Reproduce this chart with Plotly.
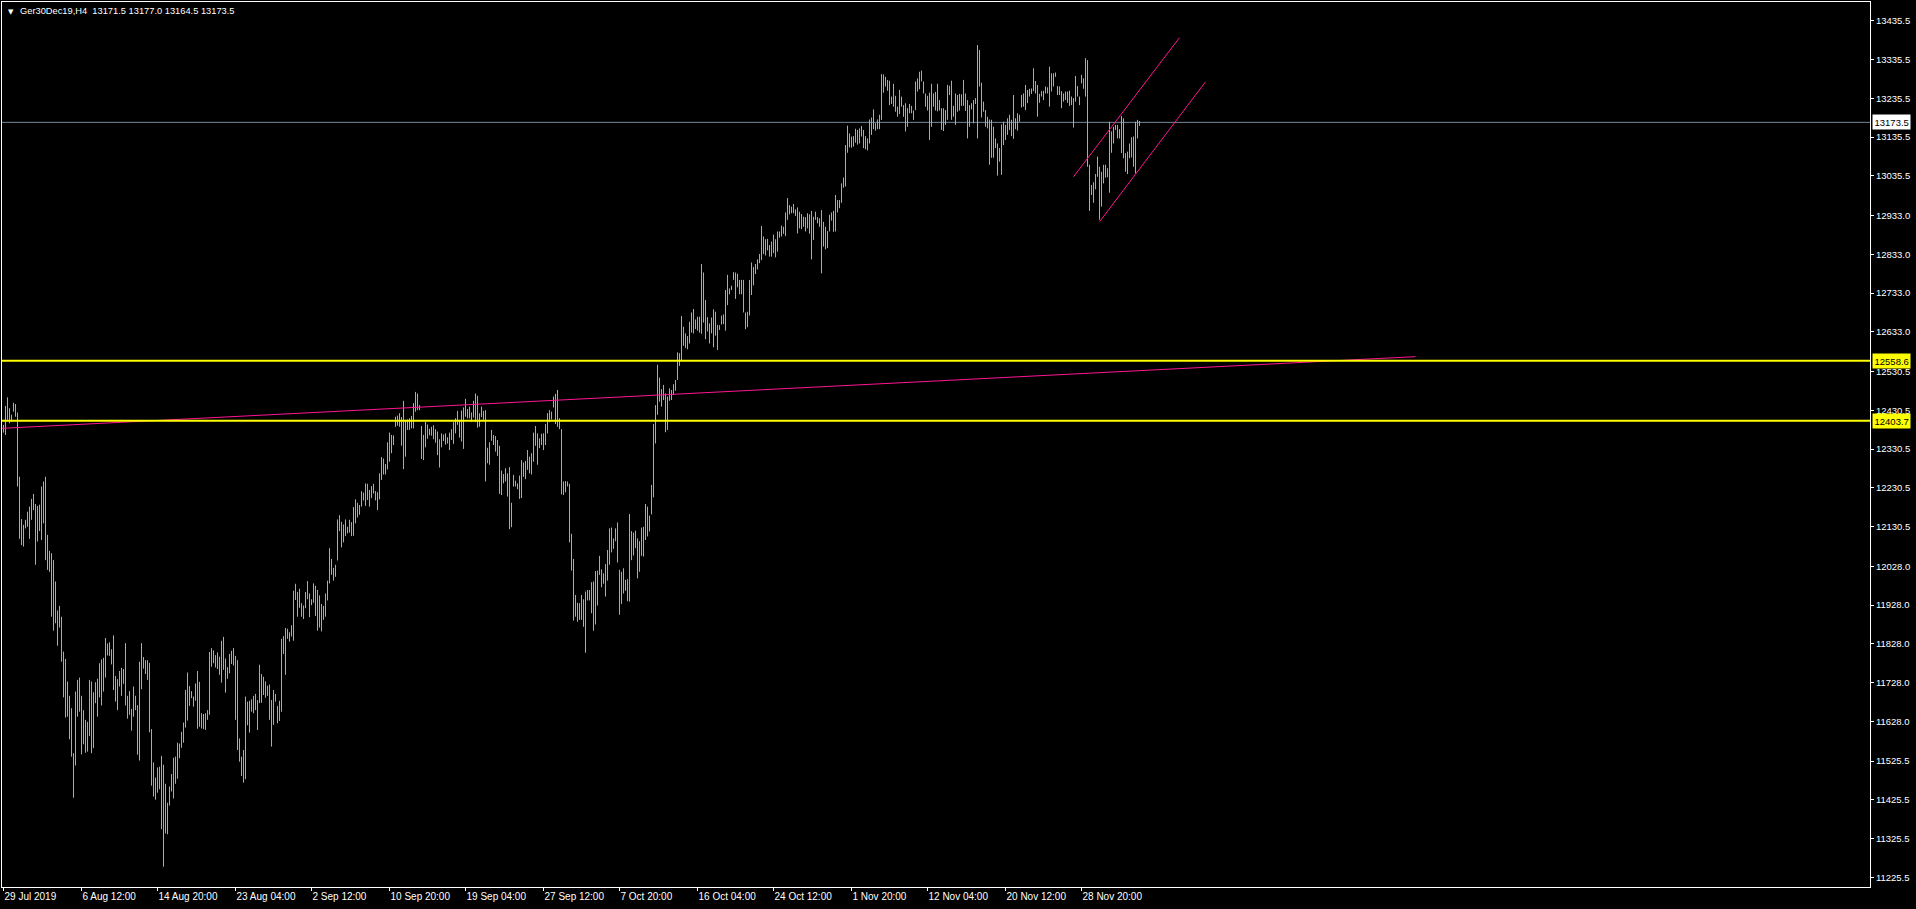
import plotly.graph_objects as go

# ---------------- data ----------------
chart_title = "Ger30Dec19,H4&nbsp; 13171.5 13177.0 13164.5 13173.5"

# H4 bar highs, oldest first
high = [
    12393, 12442, 12464, 12436, 12419, 12450, 12447, 12425, 12259, 12150,
    12135, 12148, 12169, 12182, 12202, 12215, 12189, 12184, 12187, 12234,
    12247, 12259, 12109, 12068, 12062, 12044, 11989, 11914, 11926, 11898,
    11808, 11789, 11731, 11694, 11662, 11546, 11705, 11735, 11741, 11694,
    11657, 11632, 11627, 11735, 11731, 11703, 11729, 11738, 11778, 11788,
    11792, 11843, 11829, 11832, 11814, 11850, 11745, 11737, 11758, 11766,
    11763, 11830, 11694, 11706, 11660, 11718, 11694, 11670, 11782, 11830,
    11794, 11786, 11786, 11779, 11608, 11522, 11483, 11509, 11511, 11539,
    11516, 11467, 11418, 11460, 11492, 11534, 11537, 11573, 11571, 11601,
    11625, 11709, 11754, 11719, 11706, 11692, 11726, 11758, 11730, 11649,
    11647, 11649, 11657, 11807, 11817, 11811, 11799, 11806, 11795, 11836,
    11846, 11790, 11768, 11802, 11810, 11817, 11797, 11786, 11584, 11537,
    11554, 11692, 11679, 11681, 11685, 11694, 11699, 11683, 11774, 11750,
    11743, 11731, 11720, 11723, 11683, 11709, 11699, 11668, 11681, 11841,
    11848, 11869, 11867, 11858, 11876, 11965, 11983, 11962, 11970,
    11933, 11927, 11962, 11990, 11958, 11943, 11984, 11978, 11967, 11953,
    11931, 11926, 11958, 11991, 12075, 12047, 12024, 12032, 12149, 12160,
    12143, 12136, 12149, 12130, 12148, 12142, 12181, 12201, 12192, 12186,
    12222, 12218, 12242, 12241, 12225, 12235, 12241, 12222, 12219, 12268,
    12310, 12306, 12292, 12348, 12373, 12367, 12366, 12414, 12417, 12423,
    12413, 12455, 12406, 12407, 12410, 12416, 12449, 12478, 12474, 12444,
    12390, 12367, 12401, 12394, 12383, 12388, 12392, 12382, 12376, 12356,
    12371, 12368, 12371, 12361, 12373, 12382, 12400, 12410, 12429, 12406,
    12430, 12438, 12460, 12434, 12440, 12425, 12455, 12474, 12468, 12423,
    12440, 12429, 12431, 12334, 12348, 12380, 12367, 12364, 12354, 12339,
    12275, 12266, 12281, 12268, 12284, 12192, 12264, 12249, 12242, 12262,
    12302, 12296, 12300, 12328, 12311, 12320, 12373, 12390, 12371, 12358,
    12370, 12371, 12395, 12423, 12431, 12427, 12466, 12473, 12483, 12410,
    12382, 12247, 12248, 12247, 12241, 12112, 12047, 11954, 11934, 11933,
    11954, 11943, 11963, 11967, 11967,
    11987, 11989, 12016, 12017, 12055, 12020, 12010, 12034, 12070, 12126,
    12128, 12100, 12126, 12141, 12019, 12014, 12023, 11993, 11995, 12163,
    12119, 12115, 12120, 12100, 12093, 12128, 12130, 12189, 12182, 12159,
    12238, 12395, 12444, 12548, 12515, 12485, 12496, 12474, 12466, 12487,
    12483, 12498, 12509, 12580, 12578, 12674, 12646, 12629, 12622, 12659,
    12683, 12692, 12665, 12672, 12672, 12808, 12786, 12715, 12671, 12655,
    12670, 12691, 12685, 12651, 12650, 12675, 12678, 12741, 12780, 12745,
    12752, 12787, 12786, 12783, 12767, 12767, 12767, 12683, 12685, 12767,
    12812, 12800, 12808, 12820, 12834, 12906, 12879, 12872, 12873, 12857,
    12866, 12884, 12872, 12892, 12892, 12907, 12904, 12941, 12978, 12960,
    12956, 12963, 12949, 12954, 12943, 12937, 12930, 12929, 12939, 12936,
    12945, 12930, 12943, 12929, 12926, 12947,
    12917, 12904, 12893, 12935, 12941, 12945, 12986, 12973, 12973, 13016,
    13031, 13115, 13165, 13145, 13137, 13138, 13157, 13154, 13158, 13164,
    13154, 13138, 13132, 13181, 13186, 13207, 13171, 13181, 13193, 13298,
    13297, 13291, 13283, 13281, 13240, 13273, 13242, 13214, 13257, 13240,
    13218, 13223, 13210, 13221, 13216, 13204, 13279, 13287, 13304, 13307,
    13279, 13248, 13242, 13250, 13273, 13248, 13252, 13273, 13231, 13210,
    13210, 13205, 13270, 13268, 13281, 13216, 13248, 13244, 13247, 13246,
    13283, 13248, 13231, 13218, 13223, 13231, 13236, 13373, 13360, 13276,
    13227, 13205, 13188, 13181, 13180, 13162, 13132, 13119, 13107, 13168,
    13175, 13167, 13184, 13193, 13180, 13244, 13184, 13197, 13193, 13244,
    13248, 13270, 13257, 13260, 13261, 13313, 13280, 13270, 13247, 13254,
    13255, 13266, 13264, 13317, 13300, 13300, 13302, 13267, 13266, 13254,
    13248, 13253, 13253, 13255, 13240, 13236, 13293, 13267, 13240, 13296,
    13287, 13339, 13334, 13064, 13012, 13019, 13040, 13085, 13059, 13046,
    13064, 13064, 13055, 13175, 13150, 13162, 13167, 13167, 13156, 13190,
    13184, 13094, 13098, 13119, 13135, 13137, 13175, 13180, 13177,
]

# H4 bar lows, oldest first
low = [
    12373, 12367, 12406, 12397, 12401, 12427, 12414, 12234, 12099, 12083,
    12079, 12126, 12130, 12099, 12148, 12173, 12032, 12092, 12119, 12096,
    12139, 12044, 12019, 12014, 11898, 11862, 11881, 11823, 11870, 11782,
    11690, 11638, 11640, 11582, 11537, 11431, 11514, 11640, 11653, 11543,
    11569, 11547, 11550, 11590, 11546, 11559, 11675, 11640, 11690, 11669,
    11705, 11741, 11798, 11797, 11775, 11709, 11679, 11657, 11718, 11694,
    11725, 11669, 11635, 11645, 11604, 11640, 11657, 11542, 11527, 11711,
    11764, 11750, 11735, 11600, 11462, 11434, 11426, 11444, 11453, 11350,
    11253, 11339, 11337, 11411, 11447, 11429, 11467, 11480, 11533, 11560,
    11573, 11612, 11630, 11668, 11688, 11666, 11681, 11609, 11614, 11610,
    11608, 11606, 11632, 11645, 11769, 11778, 11767, 11763, 11748, 11728,
    11761, 11702, 11738, 11752, 11776, 11772, 11632, 11554, 11524, 11487,
    11470, 11479, 11618, 11599, 11653, 11649, 11657, 11606, 11675, 11676,
    11696, 11689, 11694, 11632, 11563, 11619, 11679, 11623, 11629, 11653,
    11802, 11748, 11841, 11834, 11847, 11836, 11941, 11898, 11921,
    11898, 11892, 11920, 11943, 11897, 11928, 11934, 11900, 11862, 11870,
    11860, 11890, 11898, 11940, 11984, 12006, 11991, 12001, 12043, 12119,
    12077, 12090, 12106, 12113, 12115, 12106, 12107, 12139, 12154, 12161,
    12182, 12198, 12184, 12199, 12182, 12204, 12216, 12198, 12173, 12201,
    12251, 12265, 12265, 12278, 12298, 12320, 12341, 12388, 12391, 12388,
    12339, 12279, 12311, 12380, 12380, 12384, 12384, 12427, 12431, 12431,
    12305, 12302, 12335, 12357, 12366, 12365, 12356, 12347, 12315, 12283,
    12335, 12351, 12342, 12345, 12328, 12354, 12344, 12371, 12393, 12360,
    12350, 12331, 12414, 12410, 12410, 12401, 12412, 12400, 12386, 12388,
    12413, 12406, 12247, 12294, 12290, 12352, 12341, 12324, 12313, 12215,
    12212, 12242, 12247, 12208, 12124, 12129, 12234, 12234, 12227, 12202,
    12204, 12259, 12253, 12277, 12268, 12265, 12298, 12339, 12290, 12333,
    12341, 12328, 12341, 12371, 12400, 12407, 12438, 12395, 12388, 12382,
    12214, 12212, 12219, 12234, 12090, 12017, 11888, 11898, 11885, 11890,
    11890, 11872, 11805, 11940, 11940,
    11907, 11862, 11878, 11927, 12006, 11974, 11983, 11950, 11991, 12032,
    12064, 12073, 12093, 12038, 11903, 11931, 11958, 11965, 11938, 11937,
    12044, 12056, 12075, 11997, 12014, 12055, 12053, 12096, 12105, 12118,
    12162, 12206, 12345, 12419, 12453, 12440, 12457, 12374, 12380, 12455,
    12457, 12470, 12481, 12509, 12545, 12560, 12597, 12591, 12588, 12603,
    12631, 12629, 12640, 12636, 12631, 12628, 12657, 12614, 12634, 12603,
    12629, 12593, 12623, 12586, 12638, 12652, 12653, 12636, 12702, 12730,
    12741, 12767, 12718, 12748, 12730, 12730, 12683, 12640, 12645, 12675,
    12728, 12753, 12782, 12794, 12810, 12818, 12834, 12830, 12843, 12827,
    12827, 12836, 12825, 12840, 12876, 12879, 12886, 12880, 12922, 12936,
    12939, 12939, 12932, 12887, 12900, 12898, 12904, 12892, 12900, 12886,
    12820, 12870, 12922, 12913, 12904, 12784,
    12853, 12846, 12849, 12892, 12920, 12891, 12892, 12941, 12952, 12966,
    13005, 13008, 13095, 13109, 13108, 13111, 13121, 13116, 13119, 13137,
    13107, 13104, 13101, 13119, 13141, 13156, 13152, 13156, 13156, 13180,
    13250, 13266, 13255, 13218, 13221, 13214, 13201, 13188, 13195, 13214,
    13188, 13150, 13162, 13197, 13197, 13180, 13205, 13253, 13259, 13279,
    13248, 13214, 13204, 13128, 13162, 13214, 13204, 13202, 13204, 13154,
    13151, 13167, 13180, 13244, 13180, 13188, 13167, 13201, 13204, 13216,
    13216, 13203, 13132, 13162, 13207, 13171, 13221, 13132, 13266, 13186,
    13201, 13162, 13158, 13064, 13082, 13082, 13107, 13036, 13072, 13038,
    13115, 13128, 13141, 13154, 13138, 13131, 13156, 13152, 13175, 13212,
    13214, 13205, 13223, 13240, 13247, 13254, 13248, 13188, 13224, 13240,
    13231, 13248, 13248, 13214, 13253, 13266, 13291, 13244, 13244, 13210,
    13227, 13231, 13224, 13216, 13218, 13160, 13227, 13240, 13218, 13274,
    13260, 13240, 13059, 12945, 12986, 12966, 13001, 13033, 12922, 12956,
    13016, 13031, 13032, 12992, 13095, 13119, 13154, 13132, 13132, 13094,
    13081, 13046, 13040, 13081, 13083, 13059, 13042, 13132, 13164.5,
]

# time axis labels (bar index -> label)
x_tick_bars = [0, 39, 77, 116, 154, 193, 231, 270, 308, 347, 385, 424, 462, 501, 539]
x_tick_labels = ["29 Jul 2019", "6 Aug 12:00", "14 Aug 20:00", "23 Aug 04:00",
                 "2 Sep 12:00", "10 Sep 20:00", "19 Sep 04:00", "27 Sep 12:00",
                 "7 Oct 20:00", "16 Oct 04:00", "24 Oct 12:00", "1 Nov 20:00",
                 "12 Nov 04:00", "20 Nov 12:00", "28 Nov 20:00"]

# price axis labels
y_tick_values = [13435.5, 13335.5, 13235.5, 13135.5, 13035.5, 12933.0, 12833.0,
                 12733.0, 12633.0, 12530.5, 12430.5, 12330.5, 12230.5, 12130.5,
                 12028.0, 11928.0, 11828.0, 11728.0, 11628.0, 11525.5, 11425.5,
                 11325.5, 11225.5]

support_levels = [12558.6, 12403.7]
bid_price = 13173.5

trend_x = [-1, 706]
trend_y = [12384, 12569]
channel_upper_x = [535, 588]
channel_upper_y = [13033, 13392]
channel_lower_x = [548, 601]
channel_lower_y = [12917, 13278]

# ---------------- figure ----------------
W, H = 1916, 909
BAR_COLOR = "#ABABAB"
PINK = "#FF1493"
FONT = "Liberation Sans, Arial, sans-serif"

n = min(len(high), len(low))
seg_x, seg_y = [], []
for i in range(n):
    seg_x += [i, i, None]
    seg_y += [low[i], high[i], None]

fig = go.Figure()
fig.add_trace(go.Scatter(x=seg_x, y=seg_y, mode="lines",
                         line=dict(color=BAR_COLOR, width=1),
                         hoverinfo="skip", showlegend=False))

fig.add_trace(go.Scatter(x=trend_x, y=trend_y, mode="lines",
                         line=dict(color=PINK, width=1), hoverinfo="skip", showlegend=False))
fig.add_trace(go.Scatter(x=channel_upper_x, y=channel_upper_y, mode="lines",
                         line=dict(color=PINK, width=1), hoverinfo="skip", showlegend=False))
fig.add_trace(go.Scatter(x=channel_lower_x, y=channel_lower_y, mode="lines",
                         line=dict(color=PINK, width=1), hoverinfo="skip", showlegend=False))

shapes = []
shapes.append(dict(type="line", xref="paper", x0=0, x1=1, yref="y", y0=bid_price, y1=bid_price,
                   line=dict(color="#778899", width=1), layer="below"))
for lvl in support_levels:
    shapes.append(dict(type="line", xref="paper", x0=0, x1=1, yref="y", y0=lvl, y1=lvl,
                       line=dict(color="#FFFF00", width=2), layer="above"))

annotations = []
annotations.append(dict(xref="paper", x=1, xanchor="left", xshift=2,
                        yref="y", y=bid_price, yanchor="middle",
                        text=f"{bid_price:.1f}", showarrow=False,
                        font=dict(family=FONT, size=9.5, color="#000000"),
                        bgcolor="#FFFFFF", borderpad=1.5))
for lvl in support_levels:
    annotations.append(dict(xref="paper", x=1, xanchor="left", xshift=2,
                            yref="y", y=lvl, yanchor="middle",
                            text=f"{lvl:.1f}", showarrow=False,
                            font=dict(family=FONT, size=9.5, color="#000000"),
                            bgcolor="#FFFF00", borderpad=1.5))
# title
annotations.append(dict(xref="paper", x=0, xanchor="left", xshift=4,
                        yref="paper", y=1, yanchor="top", yshift=-4,
                        text="▼", showarrow=False,
                        font=dict(family="DejaVu Sans", size=7, color="#FFFFFF")))
annotations.append(dict(xref="paper", x=0, xanchor="left", xshift=16,
                        yref="paper", y=1, yanchor="top", yshift=-2,
                        text=chart_title, showarrow=False,
                        font=dict(family=FONT, size=9.3, color="#FFFFFF")))

fig.update_layout(
    width=W, height=H,
    margin=dict(l=2, r=46, t=2, b=22, pad=0),
    paper_bgcolor="#000000", plot_bgcolor="#000000",
    showlegend=False,
    shapes=shapes, annotations=annotations,
    xaxis=dict(range=[-0.75, 933.25], showgrid=False, zeroline=False,
               showline=True, mirror=True, linecolor="#FFFFFF", linewidth=1,
               ticks="outside", ticklen=3, tickcolor="#FFFFFF", tickwidth=1,
               tickmode="array", tickvals=x_tick_bars, ticktext=x_tick_labels,
               ticklabelposition="outside right",
               tickfont=dict(family=FONT, size=10, color="#FFFFFF"),
               fixedrange=True),
    yaxis=dict(range=[11200.7, 13484.0], side="right", showgrid=False, zeroline=False,
               showline=True, mirror=True, linecolor="#FFFFFF", linewidth=1,
               ticks="outside", ticklen=3, tickcolor="#FFFFFF", tickwidth=1,
               tickmode="array", tickvals=y_tick_values,
               ticktext=[f"{v:.1f}" for v in y_tick_values],
               tickfont=dict(family=FONT, size=9.5, color="#FFFFFF"),
               fixedrange=True),
)

fig.write_html("out.html", config={"displayModeBar": False})

# remove the browser's default page margin so the chart fills the window exactly
with open("out.html", "r", encoding="utf-8") as f:
    page = f.read()
page = page.replace("<head>", "<head><style>html,body{margin:0;padding:0;background:#000;overflow:hidden;}</style>", 1)
with open("out.html", "w", encoding="utf-8") as f:
    f.write(page)
